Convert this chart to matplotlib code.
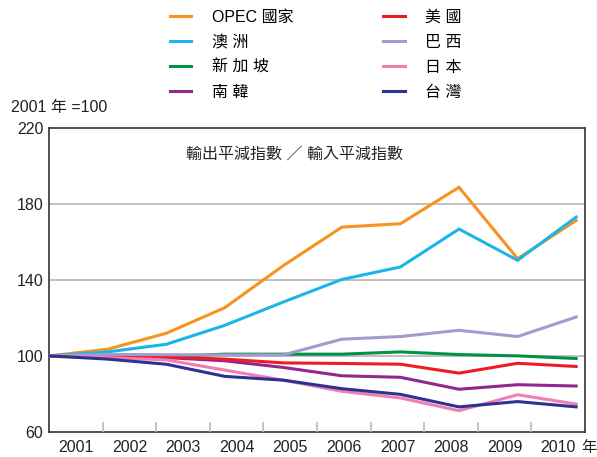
import matplotlib.pyplot as plt

plt.rcParams['font.family'] = ['Liberation Sans', 'Noto Sans CJK TC', 'DejaVu Sans']

years = [2001, 2002, 2003, 2004, 2005, 2006, 2007, 2008, 2009, 2010]
year_labels = ['2001', '2002', '2003', '2004', '2005', '2006', '2007', '2008', '2009', '2010']

opec = [100, 103.5, 111.9, 125.4, 147.6, 167.9, 169.7, 188.9, 151.3, 171.4]
australia = [100, 102.1, 106.1, 116.1, 128.4, 140.3, 146.9, 166.9, 150.4, 173.2]
singapore = [99.7, 99.4, 99.7, 100.9, 100.9, 100.9, 102.1, 100.7, 100.0, 98.6]
korea = [100, 99.6, 99.1, 97.4, 93.9, 89.5, 88.7, 82.4, 84.8, 84.1]
usa = [100, 100.2, 99.5, 98.3, 96.3, 96.0, 95.6, 90.9, 96.1, 94.4]
brazil = [100, 100.8, 100.6, 100.5, 100.5, 108.8, 110.2, 113.5, 110.2, 120.5]
japan = [100, 99.1, 97.9, 92.5, 87.2, 81.3, 77.8, 71.1, 79.5, 74.6]
taiwan = [100, 98.3, 95.6, 89.2, 87.2, 82.7, 79.7, 73.1, 75.9, 73.1]

series = [
    ('OPEC 國家', opec, '#F7931E'),
    ('澳 洲', australia, '#1CB5E8'),
    ('新 加 坡', singapore, '#009245'),
    ('南 韓', korea, '#93278F'),
    ('美 國', usa, '#ED1C24'),
    ('巴 西', brazil, '#A29BCF'),
    ('日 本', japan, '#F07EB0'),
    ('台 灣', taiwan, '#2E3192'),
]
draw_order = [6, 7, 3, 4, 5, 1, 0, 2]

fig = plt.figure(figsize=(5.97, 4.57), dpi=100)
ax = fig.add_axes([0.0821, 0.0553, 0.8979, 0.6639])

lines = {}
for i in draw_order:
    name, vals, col = series[i]
    ln, = ax.plot(years, vals, color=col, lw=2.2, solid_joinstyle='miter',
                  label=name, zorder=3 + i * 0.01)
    lines[i] = ln

ax.set_xlim(2001, 2001 + 9 / 0.9834)
ax.set_ylim(60, 220)
ax.set_yticks([60, 100, 140, 180, 220])
ax.set_xticks([])
ax.tick_params(axis='y', length=0, pad=4, labelsize=11.5, colors='#222222')
for y in [100, 140, 180]:
    ax.axhline(y, color='#BBBBBB', lw=1.3, zorder=1)
for s in ax.spines.values():
    s.set_color('#333333')
    s.set_linewidth(1.2)

# category axis for the year labels
ax2 = ax.twiny()
ax2.set_xlim(0, 10)
ax2.xaxis.set_ticks_position('bottom')
ax2.xaxis.set_label_position('bottom')
ax2.set_xticks([i + 0.5 for i in range(10)])
ax2.set_xticklabels(year_labels)
ax2.set_xticks(range(1, 10), minor=True)
ax2.tick_params(axis='x', which='major', length=0, pad=6, labelsize=11.5, colors='#222222')
ax2.tick_params(axis='x', which='minor', direction='in', length=7.5, width=1.2, color='#BBBBBB')
for s in ax2.spines.values():
    s.set_visible(False)
ax2.text(0.993, -0.053, '年', transform=ax2.transAxes, ha='left', va='center',
         fontsize=11, color='#222222')

ax.text(-0.07, 1.07, '2001 年 =100', transform=ax.transAxes, ha='left', va='center',
        fontsize=11.5, color='#222222')
ax.text(0.255, 0.915, '輸出平減指數 ／ 輸入平減指數', transform=ax.transAxes, ha='left',
        va='center', fontsize=11.5, color='#222222')

handles = [lines[i] for i in range(8)]
labels = [series[i][0] for i in range(8)]
fig.legend(handles, labels, ncol=2, loc='upper left', bbox_to_anchor=(0.26, 1.01),
           frameon=False, fontsize=11.5, handlelength=1.35, handletextpad=1.3,
           columnspacing=5.6, labelspacing=0.62)

fig.savefig('out.png', dpi=100)
